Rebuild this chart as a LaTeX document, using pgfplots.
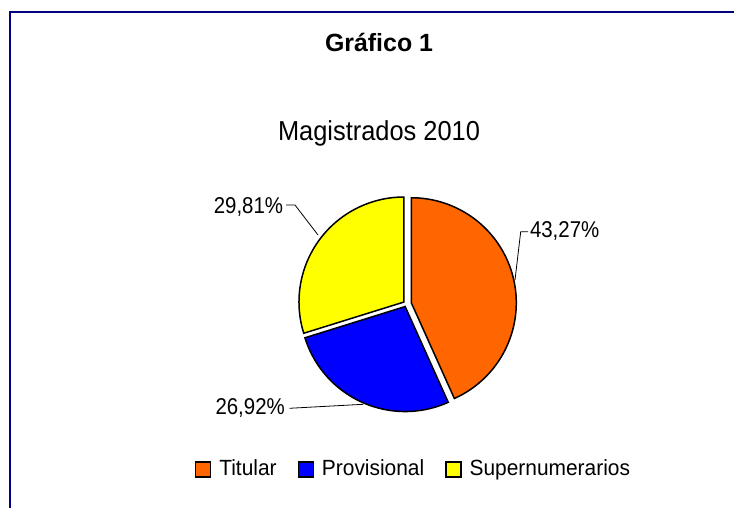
\documentclass[border=0pt]{standalone}
\usepackage{graphicx}
\usepackage{pgfplots}
\pgfplotsset{compat=1.18}
\usepackage{fontspec}
\setmainfont{Liberation Sans}
\definecolor{cTit}{HTML}{FF6600}
\definecolor{cPro}{HTML}{0000FF}
\definecolor{cSup}{HTML}{FFFF00}
\definecolor{frame}{HTML}{000080}
\newcommand{\tall}[2]{\scalebox{1}[#1]{#2}}
\begin{document}
\begin{tikzpicture}
% ---- data (percent of Magistrados 2010) ----
\def\pTit{43.27}
\def\pPro{26.92}
\def\pSup{29.81}
% ---- geometry of the pie (axis units = pixels of the reference) ----
\def\cx{406.4}\def\cy{204.2}\def\R{105}
\pgfmathsetmacro\aA{90}
\pgfmathsetmacro\aB{\aA-3.6*\pTit}
\pgfmathsetmacro\aC{\aB-3.6*\pPro}
\pgfmathsetmacro\aD{\aC-3.6*\pSup}
\pgfmathsetmacro\oxA{\cx+5*cos((\aA+\aB)/2)}
\pgfmathsetmacro\oyA{\cy+5*sin((\aA+\aB)/2)}
\pgfmathsetmacro\oxB{\cx+3*cos((\aB+\aC)/2)}
\pgfmathsetmacro\oyB{\cy+3*sin((\aB+\aC)/2)}
\pgfmathsetmacro\oxC{\cx+3*cos((\aC+\aD)/2)}
\pgfmathsetmacro\oyC{\cy+3*sin((\aC+\aD)/2)}
\begin{axis}[
  width=734bp, height=508bp, scale only axis,
  xmin=0, xmax=734, ymin=0, ymax=508,
  hide axis, clip=false,
  legend columns=3,
  legend image code/.code={\draw[#1,draw=black,line width=1.3bp] (0bp,-1bp) rectangle (15bp,14bp);},
  legend style={at={(axis cs:195,32)}, anchor=base west, draw=none, fill=none,
    inner sep=0pt, outer sep=0pt,
    font=\fontsize{21}{25}\selectfont,
    cells={anchor=base west},
    nodes={inner sep=0pt},
    /tikz/every odd column/.append style={column sep=8bp},
    /tikz/every even column/.append style={column sep=21bp}},
]
\addplot[fill=cTit, draw=black, line width=1.5bp, domain=\aB:\aA, samples=120, variable=\t]
  ({\oxA+\R*cos(t)},{\oyA+\R*sin(t)}) -- (axis cs:\oxA,\oyA) -- cycle;
\addlegendentry{\tall{1.05}{Titular}}
\addplot[fill=cPro, draw=black, line width=1.5bp, domain=\aC:\aB, samples=90, variable=\t]
  ({\oxB+\R*cos(t)},{\oyB+\R*sin(t)}) -- (axis cs:\oxB,\oyB) -- cycle;
\addlegendentry{\tall{1.05}{Provisional}}
\addplot[fill=cSup, draw=black, line width=1.5bp, domain=\aD:\aC, samples=90, variable=\t]
  ({\oxC+\R*cos(t)},{\oyC+\R*sin(t)}) -- (axis cs:\oxC,\oyC) -- cycle;
\addlegendentry{\tall{1.05}{Supernumerarios}}
% leader lines
\addplot[forget plot, black, line width=0.8bp] coordinates {(528,276.3) (520.7,276.3) (515,228)};
\addplot[forget plot, black, line width=0.8bp] coordinates {(286,303) (295,303) (318,273)};
\addplot[forget plot, black, line width=0.8bp] coordinates {(289.3,99.7) (363.3,103.7)};
% frame (top and left edges)
\addplot[forget plot, frame, line width=2bp] coordinates {(9.5,0) (9.5,495.5) (734,495.5)};
% texts
\node[anchor=base, inner sep=0pt, font=\fontsize{25}{30}\selectfont\bfseries] at (axis cs:379,456.3) {Gráfico 1};
\node[anchor=base, inner sep=0pt, font=\fontsize{25.5}{30}\selectfont] at (axis cs:379,367.3) {\tall{1.08}{Magistrados 2010}};
\node[anchor=base west, inner sep=0pt, font=\fontsize{20.5}{24}\selectfont] at (axis cs:529.8,270.3) {\tall{1.12}{43,27\%}};
\node[anchor=base east, inner sep=0pt, font=\fontsize{20.5}{24}\selectfont] at (axis cs:283.3,294) {\tall{1.12}{29,81\%}};
\node[anchor=base east, inner sep=0pt, font=\fontsize{20.5}{24}\selectfont] at (axis cs:285,93) {\tall{1.12}{26,92\%}};
\end{axis}
\pgfresetboundingbox
\path (current axis.south west) rectangle (current axis.north east);
\end{tikzpicture}
\end{document}
